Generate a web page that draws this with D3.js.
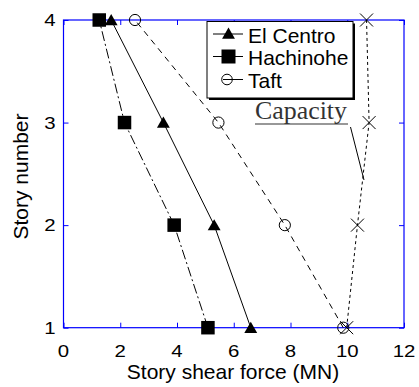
<!DOCTYPE html>
<html>
<head>
<meta charset="utf-8">
<script src="https://cdn.jsdelivr.net/npm/d3@7"></script>
<style>
  html, body { margin: 0; padding: 0; background: #fff; }
  svg { display: block; }
</style>
</head>
<body>
<svg id="chart" width="419" height="387"></svg>
<script>
// Story numbers (y) and story shear forces in MN (x) for each record
const stories = [1, 2, 3, 4];
const elCentro  = [6.6, 5.31, 3.52, 1.68];
const hachinohe = [5.09, 3.9, 2.15, 1.26];
const taft      = [9.86, 7.8, 5.46, 2.52];
const capacity  = [9.98, 10.36, 10.77, 10.68];
const xTicks = [0, 2, 4, 6, 8, 10, 12];
const yTicks = [1, 2, 3, 4];
const seriesNames = ["El Centro", "Hachinohe", "Taft"];

const svg = d3.select("#chart");
const plotL = 63.5, plotR = 404, plotT = 20, plotB = 327.7;
const x = d3.scaleLinear().domain([0, 12]).range([plotL, plotR]);
const y = d3.scaleLinear().domain([1, 4]).range([plotB, plotT]);
const axisColor = "#0000ff";
const font = "Liberation Sans, Arial, sans-serif";

// Axes box with inward ticks on all four sides
const axG = svg.append("g");
function styleAxis(g) {
  g.select(".domain").remove();
  g.selectAll(".tick line").attr("stroke", axisColor).attr("stroke-width", 1);
  g.selectAll(".tick text").remove();
}
axG.append("g").attr("transform", `translate(0,${plotB})`)
  .call(d3.axisBottom(x).tickValues(xTicks).tickSize(-5)).call(styleAxis);
axG.append("g").attr("transform", `translate(0,${plotT})`)
  .call(d3.axisTop(x).tickValues(xTicks).tickSize(-5)).call(styleAxis);
axG.append("g").attr("transform", `translate(${plotL},0)`)
  .call(d3.axisLeft(y).tickValues(yTicks).tickSize(-5)).call(styleAxis);
axG.append("g").attr("transform", `translate(${plotR},0)`)
  .call(d3.axisRight(y).tickValues(yTicks).tickSize(-5)).call(styleAxis);
axG.append("rect")
  .attr("x", plotL).attr("y", plotT)
  .attr("width", plotR - plotL).attr("height", plotB - plotT)
  .attr("fill", "none").attr("stroke", axisColor).attr("stroke-width", 1.2);

// Tick labels (slightly wide digits)
svg.append("g").selectAll("text").data(xTicks).join("text")
  .attr("transform", d => `translate(${x(d)},${plotB + 29}) scale(1.2,1)`)
  .attr("text-anchor", "middle")
  .attr("font-family", font).attr("font-size", 17)
  .text(d => d);
svg.append("g").selectAll("text").data(yTicks).join("text")
  .attr("transform", d => `translate(${plotL - 8},${y(d) + 6}) scale(1.2,1)`)
  .attr("text-anchor", "end")
  .attr("font-family", font).attr("font-size", 17)
  .text(d => d);

// Axis titles
svg.append("text")
  .attr("x", 233).attr("y", 379)
  .attr("text-anchor", "middle")
  .attr("font-family", font).attr("font-size", 21)
  .text("Story shear force (MN)");
svg.append("text")
  .attr("transform", `translate(28,176.5) rotate(-90)`)
  .attr("text-anchor", "middle")
  .attr("font-family", font).attr("font-size", 21)
  .text("Story number");

// Lines
const line = vals => d3.line().x(d => x(d)).y((d, i) => y(stories[i]))(vals);
const plotG = svg.append("g");
plotG.append("path").attr("d", line(elCentro))
  .attr("fill", "none").attr("stroke", "#000").attr("stroke-width", 1);
plotG.append("path").attr("d", line(hachinohe))
  .attr("fill", "none").attr("stroke", "#000").attr("stroke-width", 1)
  .attr("stroke-dasharray", "10,3,2,3");
plotG.append("path").attr("d", line(taft))
  .attr("fill", "none").attr("stroke", "#000").attr("stroke-width", 1)
  .attr("stroke-dasharray", "6,5");
plotG.append("path").attr("d", line(capacity))
  .attr("fill", "none").attr("stroke", "#000").attr("stroke-width", 1)
  .attr("stroke-dasharray", "3,3");

// Markers
const tri = d3.symbol().type(d3.symbolTriangle).size(72);
plotG.append("g").selectAll("path").data(elCentro).join("path")
  .attr("d", tri)
  .attr("transform", (d, i) => `translate(${x(d)},${y(stories[i]) + 1.5})`)
  .attr("fill", "#000");
plotG.append("g").selectAll("rect").data(hachinohe).join("rect")
  .attr("x", d => x(d) - 6.75).attr("y", (d, i) => y(stories[i]) - 6.75)
  .attr("width", 13.5).attr("height", 13.5).attr("fill", "#000");
plotG.append("g").selectAll("circle").data(taft).join("circle")
  .attr("cx", d => x(d)).attr("cy", (d, i) => y(stories[i]))
  .attr("r", 5.6).attr("fill", "none").attr("stroke", "#000").attr("stroke-width", 1);
plotG.append("g").selectAll("path").data(capacity).join("path")
  .attr("d", d3.symbol().type(d3.symbolX).size(112))
  .attr("transform", (d, i) => `translate(${x(d)},${y(stories[i])})`)
  .attr("fill", "none").attr("stroke", "#000").attr("stroke-width", 1);

// Legend with drop shadow
const lg = svg.append("g");
const lx = 207, ly = 21.5, lw = 146, lh = 76.5;
lg.append("rect").attr("x", lx + 2).attr("y", ly + 2).attr("width", lw).attr("height", lh).attr("fill", "#000");
lg.append("rect").attr("x", lx).attr("y", ly).attr("width", lw).attr("height", lh)
  .attr("fill", "#fff").attr("stroke", "#000").attr("stroke-width", 1);
const rowY = [34, 56.5, 79.5];
const mx = 228.5;
seriesNames.forEach((name, i) => {
  const yy = rowY[i];
  if (i === 2) {
    lg.append("line").attr("x1", 223).attr("x2", 243).attr("y1", yy).attr("y2", yy)
      .attr("stroke", "#000").attr("stroke-width", 1);
    lg.append("circle").attr("cx", 227).attr("cy", yy).attr("r", 5.3)
      .attr("fill", "none").attr("stroke", "#000");
  } else {
    lg.append("line").attr("x1", 213).attr("x2", 243).attr("y1", yy).attr("y2", yy)
      .attr("stroke", "#000").attr("stroke-width", 1);
    if (i === 0) {
      lg.append("path").attr("d", tri).attr("transform", `translate(${mx},${yy + 1})`).attr("fill", "#000");
    } else {
      lg.append("rect").attr("x", mx - 7).attr("y", yy - 7).attr("width", 14).attr("height", 14).attr("fill", "#000");
    }
  }
  lg.append("text").attr("x", 248).attr("y", yy + 8.5)
    .attr("font-family", font).attr("font-size", 21)
    .text(name);
});

// Capacity annotation with leader line
svg.append("text").attr("x", 255).attr("y", 119)
  .attr("font-family", "Liberation Serif, Times New Roman, serif").attr("font-size", 25)
  .attr("textLength", 92).attr("lengthAdjust", "spacingAndGlyphs")
  .attr("fill", "#333")
  .text("Capacity");
svg.append("line").attr("x1", 255).attr("x2", 348).attr("y1", 124).attr("y2", 124)
  .attr("stroke", "#333").attr("stroke-width", 1.2);
svg.append("line").attr("x1", 350.5).attr("y1", 127).attr("x2", 364).attr("y2", 180)
  .attr("stroke", "#000").attr("stroke-width", 1);
</script>
</body>
</html>
